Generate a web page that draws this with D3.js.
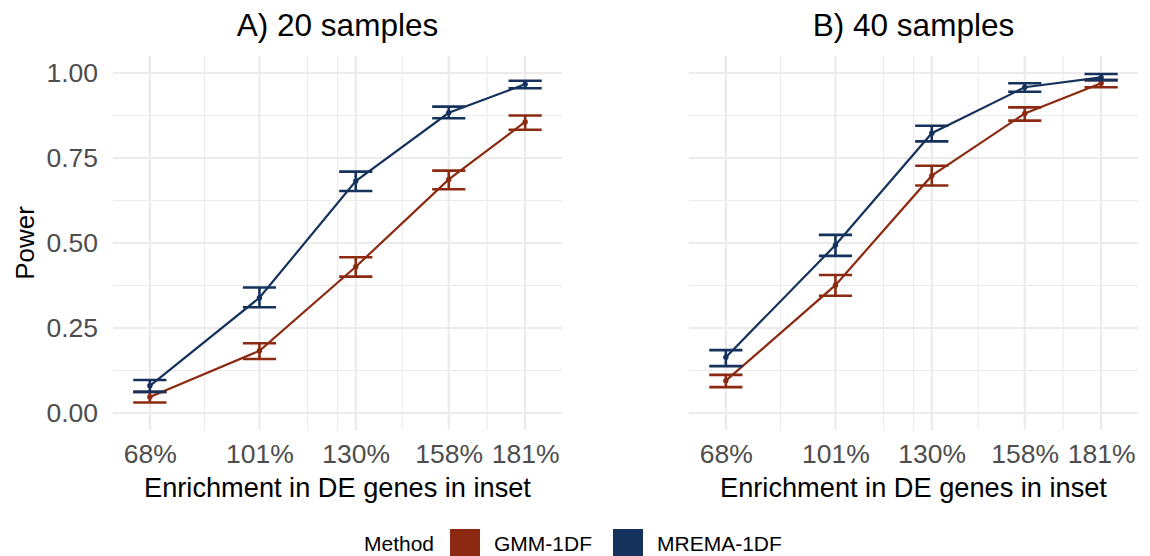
<!DOCTYPE html>
<html>
<head>
<meta charset="utf-8">
<script src="https://cdn.jsdelivr.net/npm/d3@7"></script>
<style>
  body { margin: 0; background: #fff; }
  svg { font-family: "Liberation Sans", Arial, sans-serif; display: block; }
  .grid line { stroke: #ebebeb; }
  .axis .domain { display: none; }
  .axis text { fill: #4d4d4d; font-size: 26.5px; }
</style>
</head>
<body>
<div id="chart"></div>
<script>
const W = 1150, H = 556;

// x positions (enrichment, %) and their labels
const enrichment = [68, 101, 130, 158, 181];
const enrichLabels = ["68%", "101%", "130%", "158%", "181%"];
const minorX = [84.5, 115.5, 124.5, 144, 169.5];
const yTicks = [0, 0.25, 0.5, 0.75, 1];
const minorY = [0.125, 0.375, 0.625, 0.875];

const methods = ["GMM-1DF", "MREMA-1DF"];
const methodColors = ["#8b2a10", "#14325c"];
const panelTitles = ["A) 20 samples", "B) 40 samples"];

// power, panel A (20 samples)
const gmm20 = [0.047, 0.183, 0.430, 0.687, 0.856];
const gmm20Lo = [0.031, 0.159, 0.401, 0.658, 0.833];
const gmm20Hi = [0.062, 0.205, 0.458, 0.713, 0.875];
const mrema20 = [0.080, 0.339, 0.682, 0.883, 0.967];
const mrema20Lo = [0.062, 0.311, 0.653, 0.867, 0.955];
const mrema20Hi = [0.097, 0.369, 0.710, 0.901, 0.977];

// power, panel B (40 samples)
const gmm40 = [0.095, 0.376, 0.698, 0.881, 0.970];
const gmm40Lo = [0.076, 0.345, 0.669, 0.860, 0.958];
const gmm40Hi = [0.112, 0.406, 0.727, 0.899, 0.979];
const mrema40 = [0.164, 0.494, 0.823, 0.958, 0.987];
const mrema40Lo = [0.138, 0.462, 0.799, 0.945, 0.979];
const mrema40Hi = [0.185, 0.524, 0.845, 0.970, 0.997];

function series(mean, lo, hi) {
    return enrichment.map((x, i) => ({ x: x, y: mean[i], lo: lo[i], hi: hi[i] }));
}

const panels = [
    { title: panelTitles[0], left: 113, data: [series(gmm20, gmm20Lo, gmm20Hi), series(mrema20, mrema20Lo, mrema20Hi)] },
    { title: panelTitles[1], left: 689, data: [series(gmm40, gmm40Lo, gmm40Hi), series(mrema40, mrema40Lo, mrema40Hi)] }
];

const panelW = 449, plotTop = 56, plotBottom = 430;
const capHalf = 5;

const svg = d3.select("#chart").append("svg")
    .attr("width", W)
    .attr("height", H);

const y = d3.scaleLinear().domain([-0.05, 1.05]).range([plotBottom, plotTop]);

panels.forEach((p, pi) => {
    const x = d3.scaleLinear().domain([56.9, 192.1]).range([p.left, p.left + panelW]);
    const g = svg.append("g");

    // grid
    const grid = g.append("g").attr("class", "grid");
    grid.selectAll(".minx").data(minorX).enter().append("line")
        .attr("x1", d => x(d)).attr("x2", d => x(d))
        .attr("y1", plotTop).attr("y2", plotBottom)
        .attr("stroke-width", 1.1);
    grid.selectAll(".miny").data(minorY).enter().append("line")
        .attr("x1", p.left).attr("x2", p.left + panelW)
        .attr("y1", d => y(d)).attr("y2", d => y(d))
        .attr("stroke-width", 1.1);
    grid.selectAll(".majx").data(enrichment).enter().append("line")
        .attr("x1", d => x(d)).attr("x2", d => x(d))
        .attr("y1", plotTop).attr("y2", plotBottom)
        .attr("stroke-width", 2.2);
    grid.selectAll(".majy").data(yTicks).enter().append("line")
        .attr("x1", p.left).attr("x2", p.left + panelW)
        .attr("y1", d => y(d)).attr("y2", d => y(d))
        .attr("stroke-width", 2.2);

    // x axis
    g.append("g")
        .attr("class", "axis")
        .attr("transform", `translate(0, ${plotBottom})`)
        .call(d3.axisBottom(x).tickValues(enrichment)
            .tickFormat((d, i) => enrichLabels[i])
            .tickSize(0).tickPadding(14));

    if (pi === 0) {
        g.append("g")
            .attr("class", "axis")
            .attr("transform", `translate(${p.left}, 0)`)
            .call(d3.axisLeft(y).tickValues(yTicks)
                .tickFormat(d3.format(".2f"))
                .tickSize(0).tickPadding(15));

        g.append("text")
            .attr("transform", `translate(34, ${(plotTop + plotBottom) / 2}) rotate(-90)`)
            .attr("text-anchor", "middle")
            .style("font-size", "26px")
            .text("Power");
    }

    // titles
    g.append("text")
        .attr("x", p.left + panelW / 2).attr("y", 36)
        .attr("text-anchor", "middle")
        .style("font-size", "31.5px")
        .text(p.title);

    g.append("text")
        .attr("x", p.left + panelW / 2).attr("y", 497)
        .attr("text-anchor", "middle")
        .style("font-size", "27.2px")
        .text("Enrichment in DE genes in inset");

    // lines, points, error bars
    const line = d3.line().x(d => x(d.x)).y(d => y(d.y));

    p.data.forEach((s, si) => {
        const col = methodColors[si];
        const sg = g.append("g");

        sg.append("path")
            .datum(s)
            .attr("d", line)
            .attr("fill", "none")
            .attr("stroke", col)
            .attr("stroke-width", 2.2);

        sg.selectAll(".pt").data(s).enter().append("circle")
            .attr("cx", d => x(d.x)).attr("cy", d => y(d.y))
            .attr("r", 2.7)
            .attr("fill", col);

        const eb = sg.selectAll(".eb").data(s).enter().append("g");
        eb.append("line")
            .attr("x1", d => x(d.x)).attr("x2", d => x(d.x))
            .attr("y1", d => y(d.lo)).attr("y2", d => y(d.hi))
            .attr("stroke", col).attr("stroke-width", 2.6);
        eb.append("line")
            .attr("x1", d => x(d.x - capHalf)).attr("x2", d => x(d.x + capHalf))
            .attr("y1", d => y(d.lo)).attr("y2", d => y(d.lo))
            .attr("stroke", col).attr("stroke-width", 2.6);
        eb.append("line")
            .attr("x1", d => x(d.x - capHalf)).attr("x2", d => x(d.x + capHalf))
            .attr("y1", d => y(d.hi)).attr("y2", d => y(d.hi))
            .attr("stroke", col).attr("stroke-width", 2.6);
    });
});

// legend
const legend = svg.append("g").style("font-size", "21px");
legend.append("text").attr("x", 364).attr("y", 551).text("Method");
const keyX = [450, 613];
methods.forEach((m, i) => {
    legend.append("rect")
        .attr("x", keyX[i]).attr("y", 529)
        .attr("width", 30).attr("height", 30)
        .attr("fill", methodColors[i]);
    legend.append("text")
        .attr("x", keyX[i] + 44).attr("y", 551)
        .text(m);
});
</script>
</body>
</html>
